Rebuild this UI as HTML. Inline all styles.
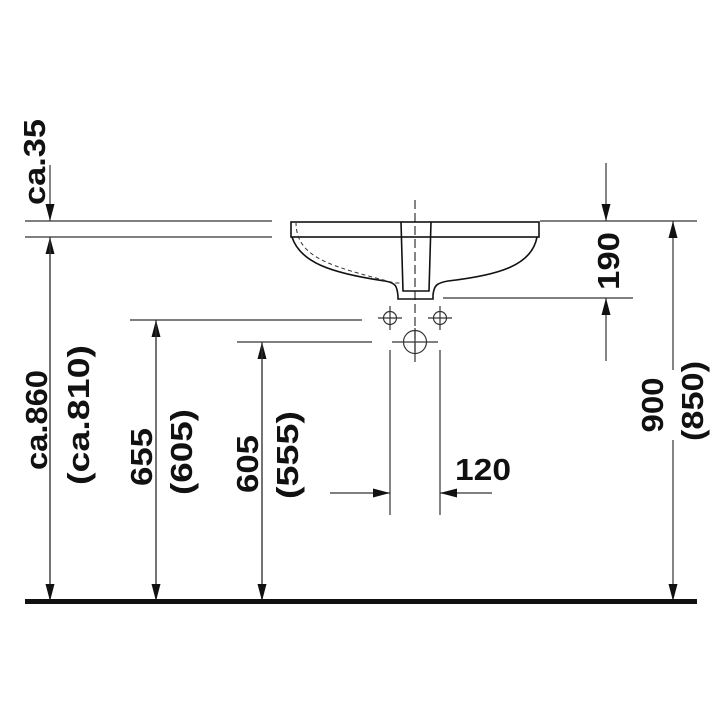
<!DOCTYPE html>
<html><head><meta charset="utf-8"><style>
html,body{margin:0;padding:0;background:#fff;}
svg{display:block}
text{font-family:"Liberation Sans",sans-serif;font-weight:bold;fill:#111;font-size:31px}
</style></head><body>
<svg width="720" height="720" viewBox="0 0 720 720" xmlns="http://www.w3.org/2000/svg">
<defs>
<marker id="a" viewBox="0 0 10 10" preserveAspectRatio="none" refX="10" refY="5" markerWidth="17" markerHeight="9" orient="auto" markerUnits="userSpaceOnUse"><path d="M0,0 L10,5 L0,10 z" fill="#111"/></marker>
</defs>
<g stroke="#333" stroke-width="1.2" fill="none">
<line x1="25" y1="221" x2="272" y2="221"/>
<line x1="25" y1="237" x2="272" y2="237"/>
<line x1="50" y1="165" x2="50" y2="221" marker-end="url(#a)"/>
<line x1="50" y1="601" x2="50" y2="237" marker-end="url(#a)"/>
<line x1="50" y1="237" x2="50" y2="601" marker-end="url(#a)"/>
<line x1="130" y1="320" x2="362" y2="320"/>
<line x1="156" y1="601" x2="156" y2="320" marker-end="url(#a)"/>
<line x1="156" y1="320" x2="156" y2="601" marker-end="url(#a)"/>
<line x1="237" y1="342" x2="372" y2="342"/>
<line x1="262" y1="601" x2="262" y2="342" marker-end="url(#a)"/>
<line x1="262" y1="342" x2="262" y2="601" marker-end="url(#a)"/>
<line x1="540" y1="221" x2="697" y2="221"/>
<line x1="443" y1="298" x2="633" y2="298"/>
<line x1="606" y1="163" x2="606" y2="221" marker-end="url(#a)"/>
<line x1="606" y1="361" x2="606" y2="298" marker-end="url(#a)"/>
<line x1="673" y1="370" x2="673" y2="221" marker-end="url(#a)"/>
<line x1="673" y1="440" x2="673" y2="601" marker-end="url(#a)"/>
<line x1="390" y1="350" x2="390" y2="515"/>
<line x1="440" y1="350" x2="440" y2="515"/>
<line x1="330" y1="493" x2="390" y2="493" marker-end="url(#a)"/>
<line x1="492" y1="493" x2="440" y2="493" marker-end="url(#a)"/>
<line x1="415" y1="200" x2="415" y2="362" stroke-dasharray="9,4"/>
<circle cx="390" cy="318" r="6.5"/>
<circle cx="440" cy="318" r="6.5"/>
<circle cx="415" cy="342" r="11.5"/>
<line x1="378" y1="318" x2="402" y2="318"/><line x1="390" y1="306" x2="390" y2="330"/>
<line x1="428" y1="318" x2="452" y2="318"/><line x1="440" y1="306" x2="440" y2="330"/>
<line x1="392" y1="342" x2="438" y2="342"/><line x1="415" y1="328" x2="415" y2="356"/>
</g>
<g stroke="#111" stroke-width="1.6" fill="none">
<rect x="291" y="222" width="248" height="15"/>
<path d="M292,237 C300,262 330,273 385,281 C396,283 397,286 398,296 L398,299 L433,299 L433,295 C434,286 436,283 448,281 C500,275 532,265 537,237"/>
<path d="M401,222 L403,291 L429,291 L431,222"/>
</g>
<path d="M296,222 C296,258 330,266 395,283 L401,283" stroke="#333" stroke-width="1" fill="none" stroke-dasharray="4,3"/>
<rect x="25" y="599" width="672" height="5" fill="#111"/>
<text transform="translate(45,162) rotate(-90)" text-anchor="middle" textLength="86" lengthAdjust="spacingAndGlyphs">ca.35</text>
<text transform="translate(47,420) rotate(-90)" text-anchor="middle" textLength="100" lengthAdjust="spacingAndGlyphs">ca.860</text>
<text transform="translate(89,415) rotate(-90)" text-anchor="middle" textLength="140" lengthAdjust="spacingAndGlyphs">(ca.810)</text>
<text transform="translate(152,457) rotate(-90)" text-anchor="middle" textLength="58" lengthAdjust="spacingAndGlyphs">655</text>
<text transform="translate(192,452) rotate(-90)" text-anchor="middle" textLength="86" lengthAdjust="spacingAndGlyphs">(605)</text>
<text transform="translate(258,464) rotate(-90)" text-anchor="middle" textLength="58" lengthAdjust="spacingAndGlyphs">605</text>
<text transform="translate(298,455) rotate(-90)" text-anchor="middle" textLength="88" lengthAdjust="spacingAndGlyphs">(555)</text>
<text transform="translate(619,261) rotate(-90)" text-anchor="middle" textLength="58" lengthAdjust="spacingAndGlyphs">190</text>
<text transform="translate(663,405) rotate(-90)" text-anchor="middle" textLength="55" lengthAdjust="spacingAndGlyphs">900</text>
<text transform="translate(703,401) rotate(-90)" text-anchor="middle" textLength="80" lengthAdjust="spacingAndGlyphs">(850)</text>
<text x="483" y="480" text-anchor="middle" textLength="56" lengthAdjust="spacingAndGlyphs">120</text>
</svg>
</body></html>
